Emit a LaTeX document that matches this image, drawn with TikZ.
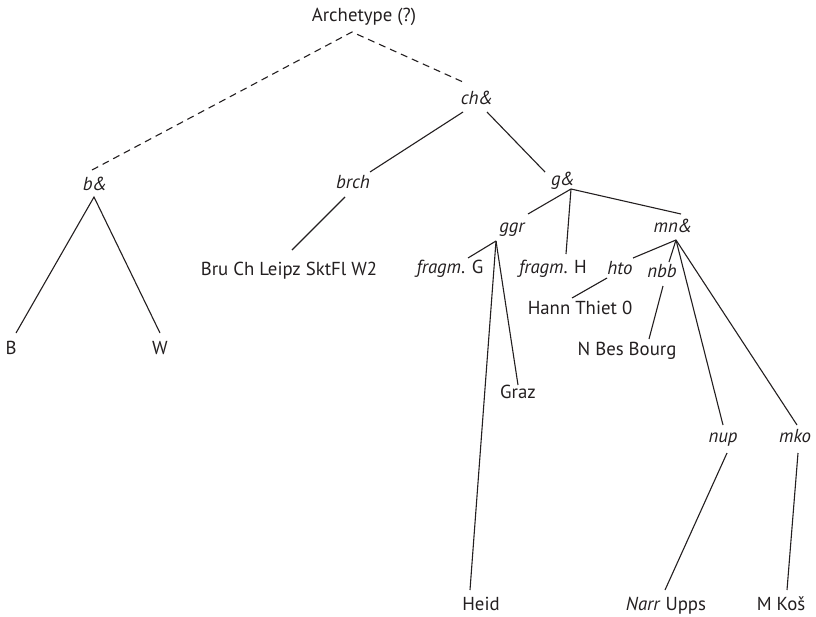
\documentclass[tikz,border=0pt]{standalone}
\usepackage{fontspec}
\setmainfont{PT Sans}
\definecolor{ink}{HTML}{231F20}
\begin{document}
\begin{tikzpicture}[x=1pt,y=-1pt,
  lbl/.style={font=\fontsize{18.8}{22}\selectfont, anchor=base, inner sep=0pt, text=ink},
  it/.style={lbl, font=\fontsize{18.8}{22}\selectfont\itshape},
  edge/.style={line width=1.1pt, draw=ink},
  dsh/.style={edge, dash pattern=on 7pt off 5pt}]
\useasboundingbox (0,0) rectangle (816,616);
% labels
\node[lbl] (arch) at (364,21) {Archetype (?)};
\node[it] (ch) at (477,104) {ch\&};
\node[it] (b) at (95,190) {b\&};
\node[it] (brch) at (353,188) {brch};
\node[it] (g) at (563,185) {g\&};
\node[lbl] (bru) at (289,275) {Bru Ch Leipz SktFl W2};
\node[lbl] (B) at (11,354) {B};
\node[lbl] (W) at (160,354) {W};
\node[it] (ggr) at (512,232) {ggr};
\node[it] (mn) at (673,232) {mn\&};
\node[lbl] (fG) at (450,273) {\textit{fragm}. G};
\node[lbl] (fH) at (553,273) {\textit{fragm}. H};
\node[it] (hto) at (620,274) {hto};
\node[it] (nbb) at (662,277) {nbb};
\node[lbl] (hann) at (580,314) {Hann Thiet 0};
\node[lbl] (nbes) at (627,355) {N Bes Bourg};
\node[lbl] (graz) at (518,398) {Graz};
\node[it] (nup) at (723,442) {nup};
\node[it] (mko) at (795,442) {mko};
\node[lbl] (heid) at (481,610) {Heid};
\node[lbl] (narr) at (666,610) {\textit{Narr} Upps};
\node[lbl] (mkos) at (781,610) {M Koš};
% connector end points
\coordinate (archA) at (352,32);
\coordinate (bT) at (92,170);
\coordinate (chT) at (463,82);
\coordinate (chL) at (463,112);
\coordinate (chR) at (487,112);
\coordinate (bA) at (94,197);
\coordinate (BT) at (16,333);
\coordinate (WT) at (160,333);
\coordinate (brchT) at (370,172);
\coordinate (brchB) at (345,197);
\coordinate (bruT) at (292,250);
\coordinate (gT) at (545,172);
\coordinate (gA) at (571,189);
\coordinate (ggrT) at (528,214);
\coordinate (fHT) at (566,254);
\coordinate (mnT) at (681,214);
\coordinate (ggrA) at (496,241);
\coordinate (fGT) at (468,258);
\coordinate (grazT) at (518,385);
\coordinate (heidT) at (470,590);
\coordinate (mnA) at (676,240);
\coordinate (htoT) at (633,258);
\coordinate (nbbT) at (669,262);
\coordinate (nupT) at (723,425);
\coordinate (mkoT) at (797,425);
\coordinate (htoB) at (607,278);
\coordinate (hannT) at (572,298);
\coordinate (nbbB) at (663,286);
\coordinate (nbesT) at (649,339);
\coordinate (nupB) at (727,453);
\coordinate (narrT) at (665,590);
\coordinate (mkoB) at (798,453);
\coordinate (mkosT) at (787,590);
% connectors
\draw[dsh] (bT) -- (archA) -- (chT);
\draw[edge] (chL) -- (brchT);
\draw[edge] (chR) -- (gT);
\draw[edge] (BT) -- (bA) -- (WT);
\draw[edge] (brchB) -- (bruT);
\draw[edge] (gA) -- (ggrT);
\draw[edge] (gA) -- (fHT);
\draw[edge] (gA) -- (mnT);
\draw[edge] (ggrA) -- (fGT);
\draw[edge] (ggrA) -- (grazT);
\draw[edge] (ggrA) -- (heidT);
\draw[edge] (mnA) -- (htoT);
\draw[edge] (mnA) -- (nbbT);
\draw[edge] (mnA) -- (nupT);
\draw[edge] (mnA) -- (mkoT);
\draw[edge] (htoB) -- (hannT);
\draw[edge] (nbbB) -- (nbesT);
\draw[edge] (nupB) -- (narrT);
\draw[edge] (mkoB) -- (mkosT);
\end{tikzpicture}
\end{document}
